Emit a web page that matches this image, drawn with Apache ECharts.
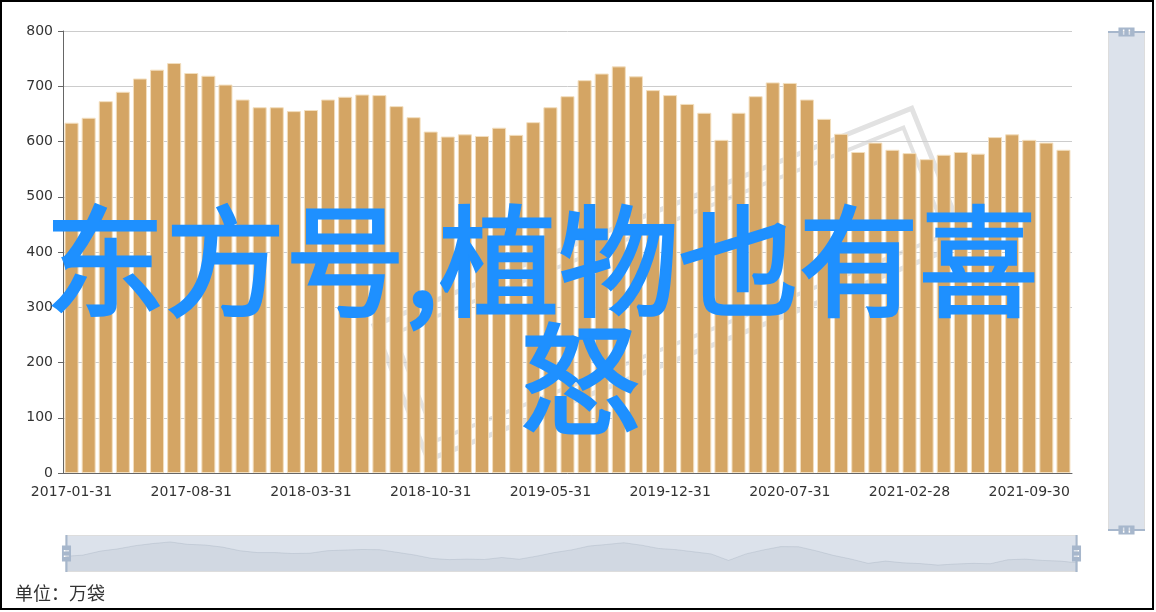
<!DOCTYPE html>
<html>
<head>
<meta charset="utf-8">
<script src="https://cdn.jsdelivr.net/npm/echarts@6/dist/echarts.min.js"></script>
<style>
  html, body { margin: 0; padding: 0; background: #fff; }
  #chart { position: absolute; left: 0; top: 0; width: 1156px; height: 612px; }
  #frame { position: absolute; left: 0; top: 0; width: 1154px; height: 610px; box-sizing: border-box; border: 2px solid #000; pointer-events: none; }
</style>
</head>
<body>
<div id="chart"></div>
<div id="frame"></div>
<script>
const categories = [
  '2017-01-31','2017-02-28','2017-03-31','2017-04-30','2017-05-31','2017-06-30','2017-07-31','2017-08-31','2017-09-30','2017-10-31','2017-11-30','2017-12-31',
  '2018-01-31','2018-02-28','2018-03-31','2018-04-30','2018-05-31','2018-06-30','2018-07-31','2018-08-31','2018-09-30','2018-10-31','2018-11-30','2018-12-31',
  '2019-01-31','2019-02-28','2019-03-31','2019-04-30','2019-05-31','2019-06-30','2019-07-31','2019-08-31','2019-09-30','2019-10-31','2019-11-30','2019-12-31',
  '2020-01-31','2020-02-29','2020-03-31','2020-04-30','2020-05-31','2020-06-30','2020-07-31','2020-08-31','2020-09-30','2020-10-31','2020-11-30','2020-12-31',
  '2021-01-31','2021-02-28','2021-03-31','2021-04-30','2021-05-31','2021-06-30','2021-07-31','2021-08-31','2021-09-30','2021-10-31','2021-11-30'
];
const values = [
  634, 643, 673, 690, 714, 730, 742, 724, 719, 703, 676, 662,
  662, 655, 657, 676, 681, 685, 684, 664, 644, 618, 609, 613,
  610, 625, 612, 635, 662, 682, 711, 723, 736, 718, 693, 684,
  668, 652, 603, 652, 682, 707, 706, 676, 641, 614, 581, 598,
  585, 579, 568, 576, 581, 578, 608, 613, 603, 598, 585
];
const titleLine1 = '东方号,植物也有喜';
const titleLine2 = '怒';
const unitText = '单位：万袋';

const FONT = '"Noto Sans CJK SC", "Noto Sans", sans-serif';
const AXIS_FONT = '"DejaVu Sans", sans-serif';
const handleIcon = 'M8.2,13.6V3.9H6.3v9.7H3.1v14.9h3.3v9.7h1.8v-9.7h3.3V13.6H8.2z M9.7,24.4H4.8v-1.4h4.9V24.4z M9.7,19.1H4.8v-1.4h4.9V19.1z';

const chart = echarts.init(document.getElementById('chart'), null, { renderer: 'canvas' });
const sliderCommon = {
  type: 'slider',
  start: 0, end: 100,
  showDetail: false,
  brushSelect: false,
  moveHandleSize: 0,
  borderColor: '#ddd',
  borderRadius: 0,
  backgroundColor: 'rgba(47,69,84,0)',
  fillerColor: 'rgba(167,183,204,0.4)',
  handleIcon: handleIcon,
  handleSize: '100%',
  handleStyle: { color: '#a7b7cc', borderWidth: 0 },
  emphasis: { handleStyle: { color: '#a7b7cc', borderWidth: 0 } },
  dataBackground: {
    lineStyle: { color: '#2f4554', width: 0.5, opacity: 0.3 },
    areaStyle: { color: 'rgba(47,69,84,0.3)', opacity: 0.3 }
  },
  selectedDataBackground: {
    lineStyle: { color: '#2f4554', width: 0.5, opacity: 0.3 },
    areaStyle: { color: 'rgba(47,69,84,0.3)', opacity: 0.3 }
  }
};

const titleStyle = {
  fill: '#1e90ff', stroke: '#1e90ff', lineWidth: 3,
  fontSize: 120, fontWeight: 'normal', fontFamily: FONT,
  align: 'center', verticalAlign: 'middle'
};

chart.setOption({
  animation: false,
  textStyle: { fontFamily: FONT },
  grid: { left: 63, right: 84, top: 31, bottom: 139 },
  xAxis: {
    type: 'category',
    data: categories,
    boundaryGap: true,
    axisLine: { lineStyle: { color: '#666' } },
    axisTick: { interval: 6, length: 5, lineStyle: { color: '#666' } },
    axisLabel: { interval: 6, color: '#333', fontSize: 14, margin: 12, fontFamily: AXIS_FONT }
  },
  yAxis: {
    type: 'value',
    min: 0, max: 800, interval: 100,
    axisLine: { show: true, lineStyle: { color: '#666' } },
    axisTick: { show: true, length: 5, lineStyle: { color: '#666' } },
    axisLabel: { color: '#333', fontSize: 14, margin: 10, fontFamily: AXIS_FONT },
    splitLine: { lineStyle: { color: '#ccc' } }
  },
  dataZoom: [
    Object.assign({}, sliderCommon, { xAxisIndex: 0, left: 63, right: 81, top: 535, height: 37 }),
    Object.assign({}, sliderCommon, { yAxisIndex: 0, orient: 'vertical', left: 1108, width: 37, top: 31, bottom: 81, showDataShadow: false })
  ],
  series: [{
    type: 'bar',
    data: values,
    barCategoryGap: '18%',
    itemStyle: { color: '#d4a564', borderColor: '#f3dfbf', borderWidth: 1 }
  }],
  graphic: [
    {
      type: 'group', x: 714, y: 393, rotation: 22 * Math.PI / 180, z: -10, silent: true,
      children: [
        { type: 'rect', shape: { x: -290, y: -190, width: 580, height: 145 }, style: { fill: 'none', stroke: '#e2e2e2', lineWidth: 5 } },
        { type: 'rect', shape: { x: -275, y: -175, width: 550, height: 115 }, style: { fill: 'none', stroke: '#e2e2e2', lineWidth: 4 } }
      ]
    },
    {
      type: 'text', x: 542, y: 261, z: 100, silent: true,
      style: Object.assign({ text: titleLine1 }, titleStyle)
    },
    {
      type: 'text', x: 580, y: 379, z: 100, silent: true,
      style: Object.assign({ text: titleLine2 }, titleStyle)
    },
    {
      type: 'text', x: 15, y: 593, z: 100, silent: true,
      style: { text: unitText, fill: '#333', fontSize: 18, fontFamily: FONT, align: 'left', verticalAlign: 'middle' }
    }
  ]
});
</script>
</body>
</html>
